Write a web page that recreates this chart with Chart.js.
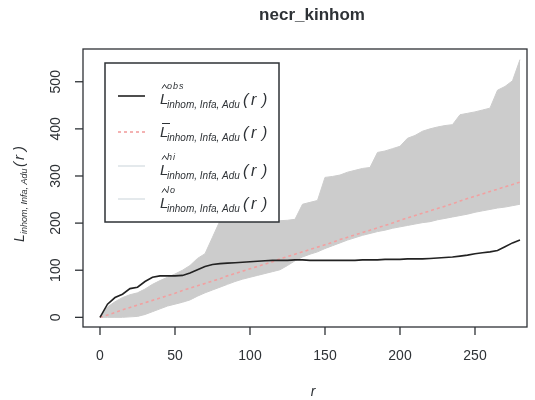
<!DOCTYPE html>
<html>
<head>
<meta charset="utf-8">
<script src="https://cdn.jsdelivr.net/npm/chart.js@4.4.1/dist/chart.umd.min.js"></script>
<style>
  body { margin: 0; background: #fff; }
</style>
</head>
<body>
<canvas id="chart" width="535" height="400"></canvas>
<script>
// distances r and the four curves
const rValues = [0, 5, 10, 15, 20, 25, 30, 35, 40, 45, 50, 55, 60, 65, 70, 75, 80, 85, 90, 95,
  100, 105, 110, 115, 120, 125, 130, 135, 140, 145, 150, 155, 160, 165, 170, 175, 180, 185, 190, 195,
  200, 205, 210, 215, 220, 225, 230, 235, 240, 245, 250, 255, 260, 265, 270, 275, 280];
const obsValues = [0, 28, 42, 49, 61, 64, 76, 85, 88, 88, 88, 89, 94, 101, 108, 112, 114, 115, 116, 117,
  118, 119, 120, 121, 121, 121, 122, 122, 121, 121, 121, 121, 121, 121, 121, 122, 122, 122, 123, 123,
  123, 124, 124, 124, 125, 126, 127, 128, 130, 132, 135, 137, 139, 142, 150, 158, 164];
const theoValues = [0, 5, 10, 16, 21, 26, 31, 36, 41, 46, 51, 57, 62, 67, 72, 77, 82, 88, 93, 98,
  103, 108, 113, 118, 124, 129, 134, 139, 144, 149, 154, 159, 165, 170, 175, 180, 185, 190, 195, 200,
  206, 211, 216, 221, 226, 231, 236, 241, 247, 252, 257, 262, 267, 272, 277, 282, 287];
const hiValues = [0, 22, 33, 42, 48, 52, 60, 70, 78, 85, 92, 100, 110, 125, 135, 170, 205, 208, 208, 209,
  209, 209, 208, 206, 205, 206, 208, 240, 244, 248, 297, 299, 302, 308, 312, 316, 318, 350, 353, 358,
  363, 380, 386, 395, 400, 404, 407, 409, 430, 433, 436, 440, 444, 482, 490, 502, 547];
const loValues = [0, 0, 0, 0, 1, 2, 6, 12, 18, 24, 28, 32, 37, 45, 52, 58, 64, 70, 76, 81,
  85, 89, 93, 97, 101, 110, 120, 128, 134, 139, 146, 152, 158, 164, 169, 174, 178, 182, 185, 189,
  192, 195, 198, 201, 203, 207, 210, 213, 216, 219, 223, 226, 229, 232, 234, 237, 240];
const xTicks = [0, 50, 100, 150, 200, 250];
const yTicks = [0, 100, 200, 300, 400, 500];

const ink = '#2e3236';
const sans = '"Liberation Sans", Arial, Helvetica, sans-serif';

function points(vals) {
  return rValues.map((r, i) => ({ x: r, y: vals[i] }));
}

// L with a hat or a bar, superscript, subscript and (r), as in the R legend
function drawL(ctx, x, y, mark, sup) {
  ctx.fillStyle = ink;
  ctx.strokeStyle = ink;
  ctx.textAlign = 'left';
  ctx.textBaseline = 'alphabetic';
  ctx.font = 'italic 15px ' + sans;
  ctx.fillText('L', x, y);
  ctx.lineWidth = 1;
  if (mark === 'hat') {
    ctx.beginPath();
    ctx.moveTo(x + 2, y - 15.5);
    ctx.lineTo(x + 4.5, y - 19.5);
    ctx.lineTo(x + 7, y - 15.5);
    ctx.stroke();
  } else if (mark === 'bar') {
    ctx.beginPath();
    ctx.moveTo(x + 2, y - 13.5);
    ctx.lineTo(x + 10, y - 13.5);
    ctx.stroke();
  }
  if (sup) {
    ctx.font = 'italic 9px ' + sans;
    ctx.letterSpacing = '1px';
    ctx.fillText(sup, x + 7, y - 15);
  }
  ctx.font = 'italic 10px ' + sans;
  ctx.letterSpacing = '0px';
  ctx.fillText('inhom, Infa, Adu', x + 7, y + 4);
  ctx.font = 'italic 16px ' + sans;
  ctx.fillText('(', x + 83, y + 1);
  ctx.fillText('r', x + 91, y + 1);
  ctx.fillText(')', x + 102, y + 1);
}

const rStyle = {
  id: 'rStyle',
  afterDraw(chart) {
    const ctx = chart.ctx;
    const a = chart.chartArea;
    const xs = chart.scales.x;
    const ys = chart.scales.y;
    ctx.save();

    // box
    ctx.strokeStyle = ink;
    ctx.lineWidth = 1.3;
    ctx.strokeRect(a.left, a.top, a.right - a.left, a.bottom - a.top);

    // x axis
    ctx.fillStyle = ink;
    ctx.font = '14px ' + sans;
    ctx.textAlign = 'center';
    ctx.textBaseline = 'middle';
    xTicks.forEach(v => {
      const px = xs.getPixelForValue(v);
      ctx.beginPath();
      ctx.moveTo(px, a.bottom);
      ctx.lineTo(px, a.bottom + 8);
      ctx.stroke();
      ctx.fillText(String(v), px, 356);
    });

    // y axis
    yTicks.forEach(v => {
      const py = ys.getPixelForValue(v);
      ctx.beginPath();
      ctx.moveTo(a.left, py);
      ctx.lineTo(a.left - 8, py);
      ctx.stroke();
      ctx.save();
      ctx.translate(56, py);
      ctx.rotate(-Math.PI / 2);
      ctx.fillText(String(v), 0, 0);
      ctx.restore();
    });

    // axis titles
    ctx.font = 'italic 14px ' + sans;
    ctx.fillText('r', 313, 392);

    ctx.save();
    ctx.translate(24, 242);
    ctx.rotate(-Math.PI / 2);
    ctx.textAlign = 'left';
    ctx.textBaseline = 'alphabetic';
    ctx.font = 'italic 14px ' + sans;
    ctx.fillText('L', 0, 0);
    ctx.font = 'italic 9px ' + sans;
    ctx.fillText('inhom, Infa, Adu', 8, 3);
    ctx.font = 'italic 15px ' + sans;
    ctx.fillText('(', 75, 0);
    ctx.fillText('r', 82, 0);
    ctx.fillText(')', 91, 0);
    ctx.restore();

    // title
    ctx.font = 'bold 17px ' + sans;
    ctx.textAlign = 'center';
    ctx.textBaseline = 'middle';
    ctx.fillText('necr_kinhom', 312, 15);

    // legend
    const lx = 105, ly = 63, lw = 174, lh = 159;
    ctx.fillStyle = '#fff';
    ctx.fillRect(lx, ly, lw, lh);
    ctx.strokeStyle = ink;
    ctx.lineWidth = 1.5;
    ctx.strokeRect(lx, ly, lw, lh);

    const rows = [
      { line: 96, base: 104, color: '#222', dash: [], width: 1.6, mark: 'hat', sup: 'obs' },
      { line: 132, base: 137, color: '#f2a0a0', dash: [3, 3], width: 1.6, mark: 'bar', sup: '' },
      { line: 166, base: 175, color: '#d3dbe0', dash: [], width: 1.2, mark: 'hat', sup: 'hi' },
      { line: 199, base: 208, color: '#d3dbe0', dash: [], width: 1.2, mark: 'hat', sup: 'lo' }
    ];
    rows.forEach(row => {
      ctx.beginPath();
      ctx.setLineDash(row.dash);
      ctx.strokeStyle = row.color;
      ctx.lineWidth = row.width;
      ctx.moveTo(118, row.line);
      ctx.lineTo(145, row.line);
      ctx.stroke();
      ctx.setLineDash([]);
      drawL(ctx, 160, row.base, row.mark, row.sup);
    });

    ctx.restore();
  }
};

new Chart(document.getElementById('chart'), {
  type: 'line',
  data: {
    datasets: [
      {
        label: 'obs',
        data: points(obsValues),
        borderColor: '#222',
        borderWidth: 1.6,
        pointRadius: 0,
        fill: false
      },
      {
        label: 'theo',
        data: points(theoValues),
        borderColor: '#f2a0a0',
        borderWidth: 1.6,
        borderDash: [3, 3],
        pointRadius: 0,
        fill: false
      },
      {
        label: 'hi',
        data: points(hiValues),
        borderColor: '#cccccc',
        borderWidth: 1,
        backgroundColor: '#cccccc',
        pointRadius: 0,
        fill: '+1'
      },
      {
        label: 'lo',
        data: points(loValues),
        borderColor: '#cccccc',
        borderWidth: 1,
        pointRadius: 0,
        fill: false
      }
    ]
  },
  options: {
    responsive: false,
    animation: false,
    devicePixelRatio: 1,
    layout: { padding: { left: 83, right: 8, top: 49, bottom: 73 } },
    plugins: {
      legend: { display: false },
      tooltip: { enabled: false }
    },
    scales: {
      x: { type: 'linear', min: -11.33, max: 284.67, display: false },
      y: { type: 'linear', min: -20.5, max: 569.5, display: false }
    }
  },
  plugins: [rStyle]
});
</script>
</body>
</html>
